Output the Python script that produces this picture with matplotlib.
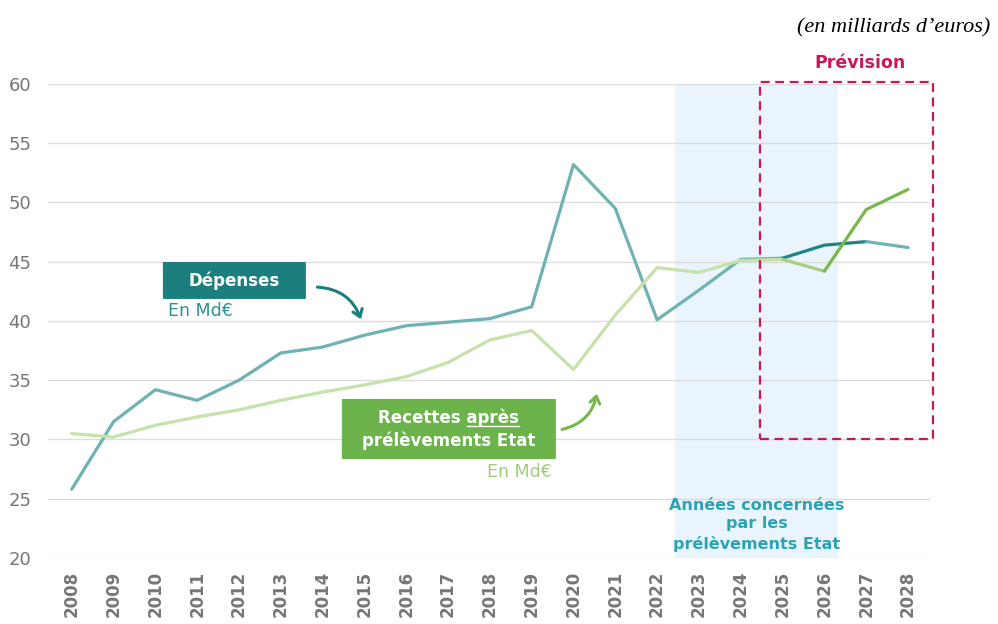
import matplotlib
matplotlib.use("Agg")
import matplotlib.pyplot as plt
from matplotlib.patches import FancyBboxPatch, Rectangle, FancyArrowPatch

plt.rcParams['font.family'] = ['DejaVu Sans']

years = list(range(2008, 2029))
depenses = [25.8, 31.5, 34.2, 33.3, 35.0, 37.3, 37.8, 38.8, 39.6, 39.9, 40.2,
            41.2, 53.2, 49.5, 40.1, 42.6, 45.2, 45.3, 46.4, 46.7, 46.2]
recettes = [30.5, 30.2, 31.2, 31.9, 32.5, 33.3, 34.0, 34.6, 35.3, 36.5, 38.4,
            39.2, 35.9, 40.5, 44.5, 44.1, 45.1, 45.2, 44.2, 49.4, 51.1]
y_ticks = [20, 25, 30, 35, 40, 45, 50, 55, 60]

TEAL_LIGHT = '#6fb2b2'
TEAL_DARK = '#1d8584'
GREEN_LIGHT = '#c6e1aa'
GREEN_MID = '#a9d081'
GREEN = '#78b84a'
BOX_TEAL = '#1b7f7e'
BOX_GREEN = '#6db34c'
CRIMSON = '#c8185c'
BLUE_TXT = '#2aa3b5'
GREY = '#767676'

fig = plt.figure(figsize=(9.98, 6.24), dpi=100)
ax = fig.add_axes([0.048, 0.1058, 0.884, 0.7596])
ax.set_xlim(2007.43, 2028.53)
ax.set_ylim(20, 60)

# shaded years affected by the state levies
ax.axvspan(2022.43, 2026.33, color='#eaf4fc', zorder=0, lw=0)

ax.set_yticks(y_ticks)
ax.grid(axis='y', color='#dcdcdc', lw=1.0, zorder=1)
for s in ax.spines.values():
    s.set_visible(False)
ax.tick_params(axis='y', length=0, pad=12, labelsize=13, labelcolor=GREY)
ax.set_xticks(years)
ax.set_xticklabels([str(y) for y in years], rotation=90, fontweight='bold')
ax.tick_params(axis='x', length=0, pad=9, labelsize=12, labelcolor=GREY)

lw = 2.3
kw = dict(lw=lw, solid_capstyle='round', solid_joinstyle='round')
# Dépenses: history, forecast 2025-2027, last point
ax.plot(years[:18], depenses[:18], color=TEAL_LIGHT, zorder=3, **kw)
ax.plot(years[17:20], depenses[17:20], color=TEAL_DARK, zorder=3, **kw)
ax.plot(years[19:], depenses[19:], color=TEAL_LIGHT, zorder=3, **kw)
# Recettes après prélèvements
ax.plot(years[:18], recettes[:18], color=GREEN_LIGHT, zorder=3, **kw)
ax.plot(years[17:19], recettes[17:19], color=GREEN_MID, zorder=3, **kw)
ax.plot(years[18:], recettes[18:], color=GREEN, zorder=4, **kw)

# forecast frame
ax.add_patch(Rectangle((2024.46, 30.0), 2028.6 - 2024.46, 60.2 - 30.0,
                       fill=False, ec=CRIMSON, lw=1.6, ls=(0, (4, 2.5)),
                       clip_on=False, zorder=5))
ax.text(2026.85, 61.8, 'Prévision', color=CRIMSON, fontsize=12.5,
        fontweight='bold', ha='center', va='center', clip_on=False)

# Dépenses label
ax.add_patch(FancyBboxPatch((2010.18, 41.86), 2013.6 - 2010.18, 44.98 - 41.86,
                            boxstyle='round,pad=0,rounding_size=0.08',
                            fc=BOX_TEAL, ec='none', zorder=6,
                            mutation_aspect=1 / 3.5))
ax.text(2011.89, 43.42, 'Dépenses', color='white', fontsize=12,
        fontweight='bold', ha='center', va='center', zorder=7)
ax.text(2010.30, 40.84, 'En Md€', color='#2f9190', fontsize=12.5,
        ha='left', va='center', zorder=7)
ax.add_patch(FancyArrowPatch((2013.81, 42.87), (2014.94, 39.92),
                             connectionstyle='arc3,rad=-0.35',
                             arrowstyle='->,head_length=5,head_width=3.5',
                             color=BOX_TEAL, lw=2.2, zorder=7))

# Recettes label
ax.add_patch(FancyBboxPatch((2014.46, 28.35), 2019.58 - 2014.46, 33.42 - 28.35,
                            boxstyle='round,pad=0,rounding_size=0.08',
                            fc=BOX_GREEN, ec='none', zorder=6,
                            mutation_aspect=1 / 3.5))
t1 = ax.text(2017.02, 31.82, 'Recettes après', color='white', fontsize=12,
             fontweight='bold', ha='center', va='center', zorder=7)
ax.text(2017.02, 29.87, 'prélèvements Etat', color='white', fontsize=12,
        fontweight='bold', ha='center', va='center', zorder=7)
ax.text(2019.48, 27.26, 'En Md€', color='#9fcb7c', fontsize=12.5,
        ha='right', va='center', zorder=7)
ax.add_patch(FancyArrowPatch((2019.66, 30.80), (2020.57, 34.10),
                             connectionstyle='arc3,rad=0.35',
                             arrowstyle='->,head_length=5,head_width=3.5',
                             color=GREEN, lw=2.2, zorder=7))

# underline the word "après"
renderer = fig.canvas.get_renderer()
bb = t1.get_window_extent(renderer)
tmp = ax.text(0, 0, 'après', fontsize=12, fontweight='bold')
w = tmp.get_window_extent(renderer).width
tmp.remove()
inv = ax.transData.inverted()
(x0, y0) = inv.transform((bb.x1 - w, bb.y0 + 1))
(x1, _) = inv.transform((bb.x1, bb.y0 + 1))
ax.plot([x0, x1], [y0, y0], color='white', lw=1.0, zorder=8)

# levy years caption
for txt, yy in [('Années concernées', 24.47), ('par les', 22.87),
                ('prélèvements Etat', 21.2)]:
    ax.text(2024.39, yy, txt, color=BLUE_TXT, fontsize=11.5, fontweight='bold',
            ha='center', va='center', zorder=7)

fig.text(0.992, 0.955, '(en milliards d\u2019euros)', ha='right', va='center',
         fontsize=16, style='italic', family='Liberation Serif')

fig.savefig('out.png', dpi=100)
